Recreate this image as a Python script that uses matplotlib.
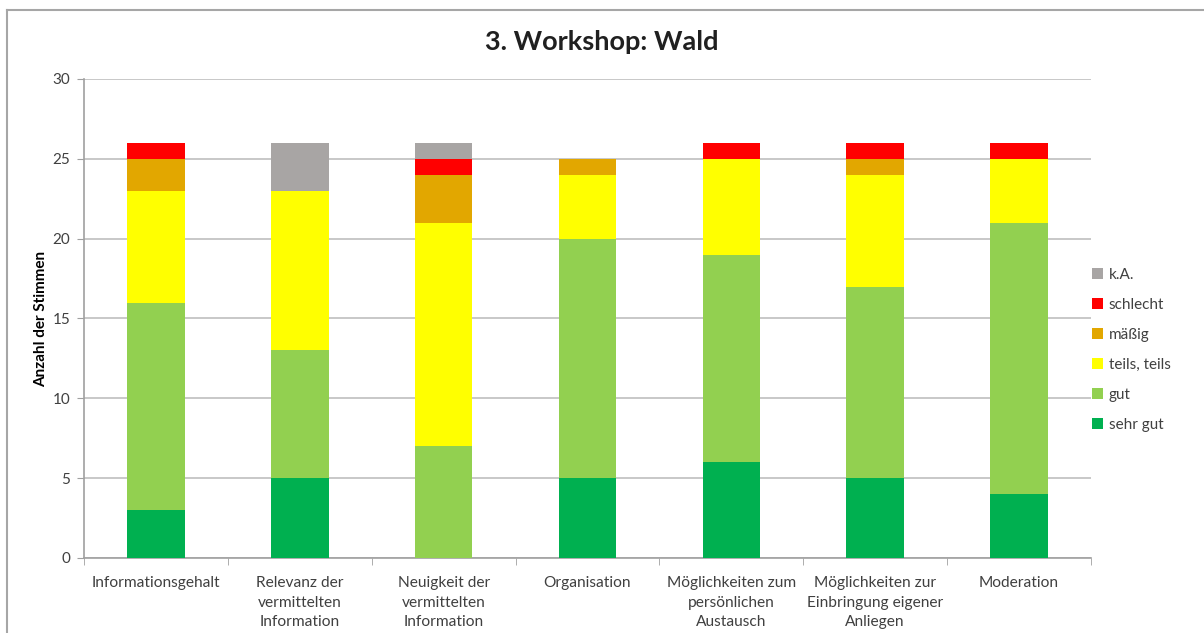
import numpy as np
import matplotlib.pyplot as plt
from matplotlib.lines import Line2D

categories = [
    "Informationsgehalt",
    "Relevanz der\nvermittelten\nInformation",
    "Neuigkeit der\nvermittelten\nInformation",
    "Organisation",
    "Möglichkeiten zum\npersönlichen\nAustausch",
    "Möglichkeiten zur\nEinbringung eigener\nAnliegen",
    "Moderation",
]

sehr_gut = [3, 5, 0, 5, 6, 5, 4]
gut = [13, 8, 7, 15, 13, 12, 17]
teils = [7, 10, 14, 4, 6, 7, 4]
maessig = [2, 0, 3, 1, 0, 1, 0]
schlecht = [1, 0, 1, 0, 1, 1, 1]
ka = [0, 3, 1, 0, 0, 0, 0]

series = [
    ("sehr gut", sehr_gut, "#00B050"),
    ("gut", gut, "#92D050"),
    ("teils, teils", teils, "#FFFF00"),
    ("mäßig", maessig, "#E2A700"),
    ("schlecht", schlecht, "#FF0000"),
    ("k.A.", ka, "#A8A5A4"),
]

plt.rcParams['font.family'] = ['Lato', 'DejaVu Sans']

fig = plt.figure(figsize=(12.04, 6.33), dpi=100)
ax = fig.add_axes([0.0698, 0.1185, 0.8363, 0.7567])

x = np.arange(len(categories))
bottom = np.zeros(len(categories))
handles = []
for name, vals, col in series:
    vals = np.array(vals, dtype=float)
    b = ax.bar(x, vals, width=0.4, bottom=bottom, color=col, label=name, zorder=3)
    bottom += vals
    handles.append(b)

ax.set_xlim(-0.5, len(categories) - 0.5)
ax.set_ylim(0, 30)
ax.set_yticks(range(0, 31, 5))
ax.set_xticks(x)
ax.set_xticklabels(categories, fontsize=11.2, color="#404040", linespacing=1.5)
ax.set_xticks(np.arange(-0.5, len(categories)), minor=True)
ax.tick_params(axis="x", which="major", length=0, pad=13)
ax.tick_params(axis="x", which="minor", length=5, color="#A0A0A0", direction="out")
ax.tick_params(axis="y", length=5, color="#A0A0A0", labelsize=11, labelcolor="#404040", pad=5)

ax.yaxis.grid(True, color="#BFBFBF", linewidth=1.2, zorder=0)
ax.set_axisbelow(True)
for s in ["top", "right"]:
    ax.spines[s].set_visible(False)
for s in ["left", "bottom"]:
    ax.spines[s].set_color("#A0A0A0")
    ax.spines[s].set_linewidth(1.2)

ax.set_ylabel("Anzahl der Stimmen", fontsize=11, fontweight="bold", labelpad=3)
fig.text(0.5, 0.933, "3. Workshop: Wald", ha="center", va="center",
         fontsize=19.5, fontweight="bold", color="#202020")

leg = ax.legend(handles[::-1], [s[0] for s in series][::-1],
                loc="center left", bbox_to_anchor=(0.995, 0.435), frameon=False,
                fontsize=11, handlelength=0.7, handleheight=0.7,
                handletextpad=0.4, labelspacing=1.05, borderaxespad=0)
for t in leg.get_texts():
    t.set_color("#404040")

# outer chart frame (top and left edges visible)
fig.add_artist(Line2D([7 / 1204, 7 / 1204], [0, 1 - 10 / 633], color="#A6A6A6",
                      linewidth=1.5, transform=fig.transFigure))
fig.add_artist(Line2D([7 / 1204, 1], [1 - 10 / 633, 1 - 10 / 633], color="#A6A6A6",
                      linewidth=1.5, transform=fig.transFigure))

fig.savefig("out.png", dpi=100)
